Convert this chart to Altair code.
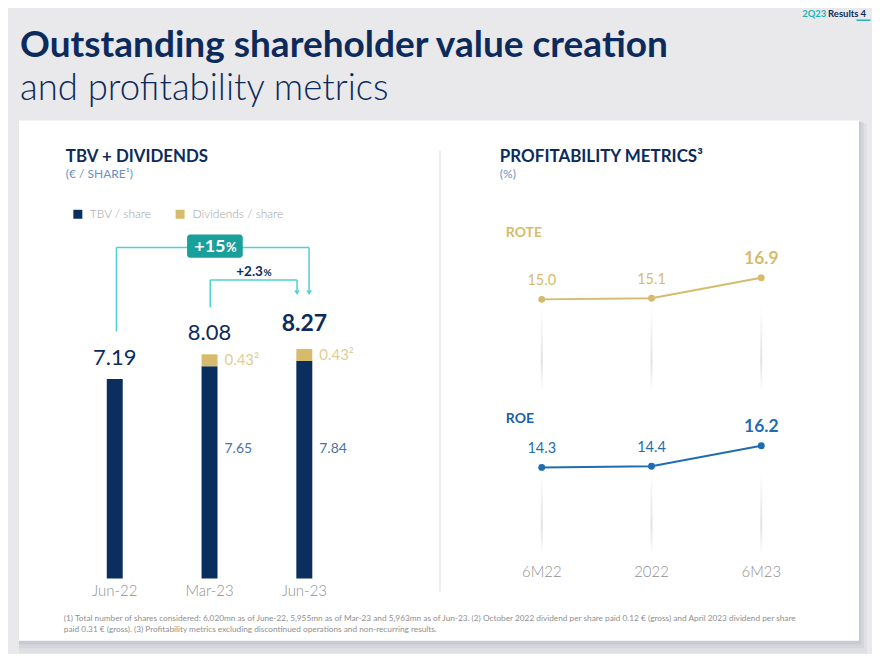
import altair as alt
import pandas as pd

# ---------------- data ----------------
periods = ["Jun-22", "Mar-23", "Jun-23"]
tbv_per_share = [7.19, 7.65, 7.84]
dividends_per_share = [0.0, 0.43, 0.43]
totals = [7.19, 8.08, 8.27]

metric_periods = ["6M22", "2022", "6M23"]
rote = [15.0, 15.1, 16.9]
roe = [14.3, 14.4, 16.2]

footnote_1 = ("(1) Total number of shares considered: 6,020mn as of June-22, 5,955mn as of Mar-23 and 5,963mn as of Jun-23. "
              "(2) October 2022 dividend per share paid 0.12 \u20ac (gross) and April 2023 dividend per share")
footnote_2 = "paid 0.31 \u20ac (gross). (3) Profitability metrics excluding discontinued operations and non-recurring results."

# ---------------- style ----------------
O = 8  # page margin offset
FONT = "Lato"
NAVY = "#0c2b5c"
BAR_NAVY = "#0a2f5e"
GOLD = "#d6bb6d"
PALE_GOLD = "#e2cd92"
BLUE = "#1f6cb4"
SOFT_BLUE = "#6b90c4"
MID_BLUE = "#4a73a8"
GRAY = "#8f8f8f"
TEAL_LINE = "#4dd1d4"
TEAL_FILL = "#19a09a"
BG = "#e9e9eb"

dummy = pd.DataFrame({"k": [0]})


def P(v):
    return v - O


def label(s, x, y, size, color, weight="normal", align="left", baseline="middle"):
    return alt.Chart(dummy).mark_text(
        text=s, fontSize=size, color=color, fontWeight=weight, align=align,
        baseline=baseline, font=FONT
    ).encode(x=alt.value(P(x)), y=alt.value(P(y)))


def box(x1, y1, x2, y2, color, radius=0, opacity=1):
    return alt.Chart(dummy).mark_rect(color=color, cornerRadius=radius, opacity=opacity).encode(
        x=alt.value(P(x1)), x2=alt.value(P(x2)), y=alt.value(P(y1)), y2=alt.value(P(y2))
    )


def seg(x1, y1, x2, y2, color, width=1.5):
    return alt.Chart(dummy).mark_rule(color=color, strokeWidth=width).encode(
        x=alt.value(P(x1)), x2=alt.value(P(x2)), y=alt.value(P(y1)), y2=alt.value(P(y2))
    )


def arrow_head(x, y, color):
    return alt.Chart(dummy).mark_point(shape="triangle-down", filled=True, size=32, color=color, opacity=1).encode(
        x=alt.value(P(x)), y=alt.value(P(y))
    )


layers = []

# card with shadow
layers += [
    box(19, 123, 869, 654, "#dfe0e4"),
    box(19, 122, 866, 649, "#d3d5db"),
    box(19, 121, 863, 645, "#c6c9d1"),
    box(19, 120, 861, 641.5, "#ffffff"),
]

# header
layers += [
    label("2Q23", 804, 13.5, 9.5, "#1fb3ae", weight="bold"),
    label("Results", 830, 13.5, 9.5, NAVY, weight="bold"),
    label("4", 862.5, 13.5, 9.5, NAVY, weight="bold"),
    seg(858.5, 19.5, 872.5, 19.5, "#1fb3ae", 1.5),
    label("Outstanding shareholder value creation", 20, 56, 37.1, NAVY, weight="bold", baseline="alphabetic"),
    label("and profitability metrics", 20, 99, 36.6, NAVY, weight=300, baseline="alphabetic"),
]

# divider
layers.append(seg(441, 150, 441, 592, "#e8e8e8", 1.5))

# left panel titles + legend
layers += [
    label("TBV + DIVIDENDS", 66, 157, 16.9, NAVY, weight="bold"),
    label("(\u20ac / SHARE\u00b9)", 66, 174, 12, SOFT_BLUE),
    box(73.5, 209.5, 82.5, 218.5, BAR_NAVY),
    label("TBV / share", 90, 214, 12, "#a0a0a0", weight=300),
    box(176, 209.5, 185, 218.5, GOLD),
    label("Dividends / share", 193, 214, 12, "#a0a0a0", weight=300),
]

# growth brackets
layers += [
    seg(116.7, 247.3, 116.7, 331.5, TEAL_LINE),
    seg(116.7, 247.3, 309.8, 247.3, TEAL_LINE),
    seg(309.8, 247.3, 309.8, 290, TEAL_LINE),
    arrow_head(309.8, 292.5, TEAL_LINE),
    seg(210.7, 280, 210.7, 307.3, TEAL_LINE),
    seg(210.7, 280, 297.7, 280, TEAL_LINE),
    seg(297.7, 280, 297.7, 290, TEAL_LINE),
    arrow_head(297.7, 292.5, TEAL_LINE),
    box(187.5, 234.3, 243.3, 257.5, TEAL_FILL, radius=3),
    label("+15", 226, 252, 18, "#ffffff", weight="bold", align="right", baseline="alphabetic"),
    label("%", 226.5, 252, 13, "#ffffff", weight="bold", align="left", baseline="alphabetic"),
    label("+2.3", 263.5, 275.7, 13.5, NAVY, weight="bold", align="right", baseline="alphabetic"),
    label("%", 264, 275.7, 10, NAVY, weight="bold", align="left", baseline="alphabetic"),
]

# ---------------- bar group ----------------
rows = []
for p, t, d in zip(periods, tbv_per_share, dividends_per_share):
    rows.append({"Period": p, "Component": "TBV / share", "Value": t, "ord": 0})
    if d > 0:
        rows.append({"Period": p, "Component": "Dividends / share", "Value": d, "ord": 1})
bar_df = pd.DataFrame(rows)
tot_df = pd.DataFrame({"Period": periods, "Total": totals,
                       "TBV": tbv_per_share, "Div": dividends_per_share})

bx = alt.X("Period:N", sort=periods, axis=None,
           scale=alt.Scale(type="band", domain=periods, range=[P(67.5), P(352.5)],
                           paddingInner=0, paddingOuter=0))
ymax = 10
by_scale = alt.Scale(domain=[0, ymax], range=[P(579), P(579 - 27.8 * ymax)], zero=True, nice=False)

bars = alt.Chart(bar_df).mark_bar(size=16).encode(
    x=bx,
    y=alt.Y("sum(Value):Q", axis=None, scale=by_scale, stack="zero"),
    color=alt.Color("Component:N", legend=None,
                    scale=alt.Scale(domain=["TBV / share", "Dividends / share"], range=[BAR_NAVY, GOLD])),
    order=alt.Order("ord:Q", sort="ascending"),
)

total_labels = alt.Chart(tot_df).transform_filter(alt.datum.Period != "Jun-23").mark_text(
    fontSize=22, color=NAVY, font=FONT, baseline="alphabetic", dy=-14
).encode(x=bx, y=alt.Y("Total:Q", scale=by_scale, axis=None), text=alt.Text("Total:Q", format=".2f"))

total_bold = alt.Chart(tot_df).transform_filter(alt.datum.Period == "Jun-23").mark_text(
    fontSize=23, color=NAVY, font=FONT, fontWeight="bold", baseline="alphabetic", dy=-18
).encode(x=bx, y=alt.Y("Total:Q", scale=by_scale, axis=None), text=alt.Text("Total:Q", format=".2f"))

div_labels = alt.Chart(tot_df).transform_filter(alt.datum.Div > 0).transform_calculate(
    mid="datum.TBV + datum.Div / 2",
    lab="format(datum.Div, '.2f') + '\u00b2'",
).mark_text(fontSize=15, color=PALE_GOLD, font=FONT, align="left", baseline="middle", dx=15).encode(
    x=bx, y=alt.Y("mid:Q", scale=by_scale, axis=None), text="lab:N")

tbv_labels = alt.Chart(tot_df).transform_filter(alt.datum.Div > 0).mark_text(
    fontSize=14, color=MID_BLUE, font=FONT, align="left", baseline="middle", dx=15
).encode(x=bx, y=alt.value(P(449.5)), text=alt.Text("TBV:Q", format=".2f"))

cat_labels = alt.Chart(tot_df).mark_text(
    fontSize=15, color=GRAY, font=FONT, fontWeight=300, baseline="middle"
).encode(x=bx, y=alt.value(P(592)), text="Period:N")

bar_group = alt.layer(bars, total_labels, total_bold, div_labels, tbv_labels, cat_labels)

# ---------------- right panel ----------------
layers += [
    label("PROFITABILITY METRICS\u00b3", 501, 157, 17, NAVY, weight="bold"),
    label("(%)", 501, 174, 12, SOFT_BLUE),
    label("ROTE", 507, 232.5, 14, GOLD, weight="bold"),
    label("ROE", 507, 419.5, 14, "#1a5ea8", weight="bold"),
]

fade = alt.LinearGradient(
    gradient="linear",
    stops=[alt.GradientStop(color="#ffffff", offset=0),
           alt.GradientStop(color="#e2e2e2", offset=0.65),
           alt.GradientStop(color="#ffffff", offset=1)],
    x1=0, x2=0, y1=0, y2=1,
)

mx = alt.X("Period:N", sort=metric_periods, axis=None,
           scale=alt.Scale(type="point", domain=metric_periods, range=[P(543), P(763)], padding=0))


def metric_group(values, color, y_top_px, y_bot_px, fade_top, fade_bot, cat=False):
    df = pd.DataFrame({"Period": metric_periods, "Value": values})
    lo, hi = min(values), max(values)
    ys = alt.Y("Value:Q", axis=None,
               scale=alt.Scale(domain=[lo, hi], range=[P(y_bot_px), P(y_top_px)], zero=False, nice=False))
    base = alt.Chart(df)
    parts = [
        base.mark_bar(size=2, fill=fade).encode(x=mx, y=alt.value(P(fade_top)), y2=alt.value(P(fade_bot))),
        base.mark_line(color=color, strokeWidth=2).encode(x=mx, y=ys),
        base.mark_circle(color=color, size=48, opacity=1).encode(x=mx, y=ys),
        base.transform_filter(alt.datum.Period != "6M23").mark_text(
            fontSize=14.5, color=color, font=FONT, baseline="middle", dy=-18
        ).encode(x=mx, y=ys, text=alt.Text("Value:Q", format=".1f")),
        base.transform_filter(alt.datum.Period == "6M23").mark_text(
            fontSize=17.5, color=color, font=FONT, fontWeight="bold", baseline="middle", dy=-19
        ).encode(x=mx, y=ys, text=alt.Text("Value:Q", format=".1f")),
    ]
    if cat:
        parts.append(base.mark_text(fontSize=15, color=GRAY, font=FONT, fontWeight=300, baseline="middle").encode(
            x=mx, y=alt.value(P(573)), text="Period:N"))
    return alt.layer(*parts)


rote_group = metric_group(rote, GOLD, 277.7, 299.3, 305, 392)
roe_group = metric_group(roe, BLUE, 446, 467.7, 472, 556, cat=True)

# footnotes
layers += [
    label(footnote_1, 64, 619.5, 8.3, GRAY),
    label(footnote_2, 64, 630.5, 8.3, GRAY),
]

chart = alt.layer(*layers, bar_group, rote_group, roe_group).resolve_scale(
    x="independent", y="independent", color="independent"
).properties(
    width=864, height=644, background=BG, padding=0
).configure_view(stroke=None)

chart.save("out.html", embed_options={"renderer": "svg", "actions": False})
